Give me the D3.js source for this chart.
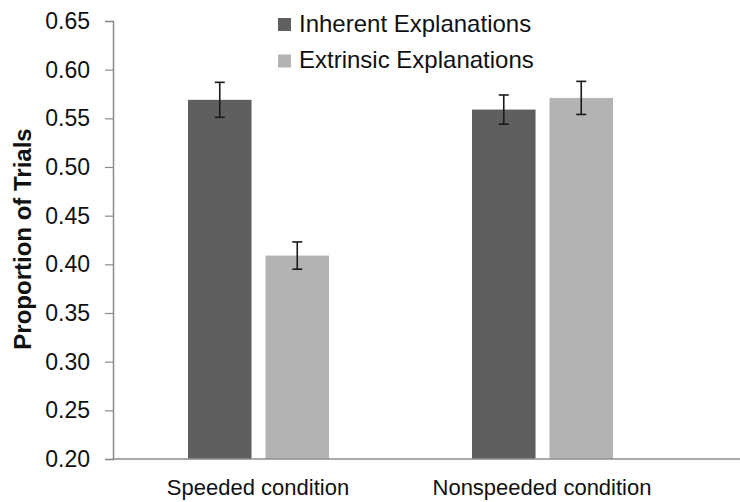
<!DOCTYPE html>
<html>
<head>
<meta charset="utf-8">
<script src="https://cdn.jsdelivr.net/npm/d3@7"></script>
<style>
  body { margin: 0; background: #fff; }
  svg { display: block; font-family: 'Liberation Sans', Arial, sans-serif; }
</style>
</head>
<body>
<div id="chart"></div>
<script>
// data
const conditions = ['Speeded condition', 'Nonspeeded condition']
const seriesNames = ['Inherent Explanations', 'Extrinsic Explanations']
const inherentValues = [0.569, 0.559]
const extrinsicValues = [0.409, 0.571]
const inherentErrors = [0.018, 0.015]
const extrinsicErrors = [0.014, 0.017]
const yTicks = [0.20, 0.25, 0.30, 0.35, 0.40, 0.45, 0.50, 0.55, 0.60, 0.65]

const width = 740
const height = 502
const colors = ['#5f5f5f', '#b3b3b3']

const rows = []
conditions.forEach((c, i) => {
  rows.push({cond: c, series: seriesNames[0], value: inherentValues[i], err: inherentErrors[i]})
  rows.push({cond: c, series: seriesNames[1], value: extrinsicValues[i], err: extrinsicErrors[i]})
})

const svg = d3.select('#chart').append('svg')
  .attr('width', width)
  .attr('height', height)

const y = d3.scaleLinear().domain([0.2, 0.65]).range([459, 21])
const x0 = d3.scaleBand().domain(conditions).range([116, 684])
const x1 = d3.scaleBand().domain(seriesNames).range([72, 213]).paddingInner(0.18)
const color = d3.scaleOrdinal().domain(seriesNames).range(colors)

// y axis
const yAxisG = svg.append('g')
  .attr('transform', 'translate(113,0)')
  .call(d3.axisLeft(y).tickValues(yTicks).tickFormat(d3.format('.2f')).tickSize(8).tickPadding(15))
yAxisG.select('.domain').attr('stroke', '#8c8c8c').attr('stroke-width', 1.5)
yAxisG.selectAll('.tick line').attr('stroke', '#8c8c8c').attr('stroke-width', 1.2)
yAxisG.selectAll('.tick text')
  .attr('font-size', 23)
  .attr('fill', '#111')
  .attr('font-family', "'Liberation Sans', Arial, sans-serif")

// bars
const groups = svg.append('g').selectAll('g')
  .data(conditions)
  .join('g')
  .attr('transform', d => 'translate(' + x0(d) + ',0)')

groups.selectAll('rect')
  .data(c => rows.filter(r => r.cond === c))
  .join('rect')
  .attr('x', d => x1(d.series))
  .attr('y', d => y(d.value))
  .attr('width', x1.bandwidth())
  .attr('height', d => y(0.2) - y(d.value))
  .attr('fill', d => color(d.series))

// error bars
const eb = groups.selectAll('g.err')
  .data(c => rows.filter(r => r.cond === c))
  .join('g')
  .classed('err', true)
  .attr('stroke', '#1a1a1a')
  .attr('stroke-width', 1.6)
eb.append('line')
  .attr('x1', d => x1(d.series) + x1.bandwidth() / 2)
  .attr('x2', d => x1(d.series) + x1.bandwidth() / 2)
  .attr('y1', d => y(d.value + d.err))
  .attr('y2', d => y(d.value - d.err))
eb.append('line')
  .attr('x1', d => x1(d.series) + x1.bandwidth() / 2 - 5)
  .attr('x2', d => x1(d.series) + x1.bandwidth() / 2 + 5)
  .attr('y1', d => y(d.value + d.err))
  .attr('y2', d => y(d.value + d.err))
eb.append('line')
  .attr('x1', d => x1(d.series) + x1.bandwidth() / 2 - 5)
  .attr('x2', d => x1(d.series) + x1.bandwidth() / 2 + 5)
  .attr('y1', d => y(d.value - d.err))
  .attr('y2', d => y(d.value - d.err))

// x axis line
svg.append('line')
  .attr('x1', 113).attr('x2', width)
  .attr('y1', y(0.2)).attr('y2', y(0.2))
  .attr('stroke', '#8c8c8c')
  .attr('stroke-width', 1.5)

// x labels
svg.append('g').selectAll('text')
  .data(conditions)
  .join('text')
  .attr('x', d => x0(d) + x0.bandwidth() / 2)
  .attr('y', 495)
  .attr('text-anchor', 'middle')
  .attr('font-size', 22)
  .attr('fill', '#111')
  .text(d => d)

// y label
svg.append('text')
  .attr('transform', 'translate(31,239) rotate(-90)')
  .attr('text-anchor', 'middle')
  .attr('font-size', 24)
  .attr('font-weight', 'bold')
  .attr('fill', '#111')
  .text('Proportion of Trials')

// legend
const legend = svg.append('g').selectAll('g')
  .data(seriesNames)
  .join('g')
  .attr('transform', (d, i) => 'translate(278,' + (18 + i * 36.5) + ')')
legend.append('rect')
  .attr('width', 13).attr('height', 13)
  .attr('fill', d => color(d))
legend.append('text')
  .attr('x', 21)
  .attr('y', 13.5)
  .attr('font-size', 24)
  .attr('fill', '#111')
  .text(d => d)
</script>
</body>
</html>
